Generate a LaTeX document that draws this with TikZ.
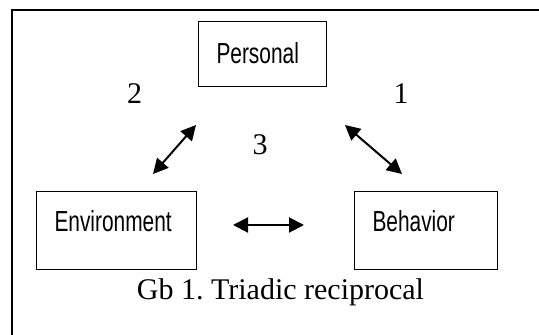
\documentclass[tikz,border=0pt]{standalone}
\usepackage{fontspec}
\setmainfont{Liberation Serif}
\newfontfamily\narrowfont[FakeStretch=0.72]{Liberation Sans}
\usetikzlibrary{arrows.meta}

\begin{document}
\begin{tikzpicture}[x=1pt, y=-1pt,
  box/.style={draw, line width=1pt, anchor=north west, inner xsep=18pt, inner ysep=0pt,
    align=left, font=\narrowfont\fontsize{29}{31}\selectfont},
  num/.style={anchor=base, font=\fontsize{30}{32}\selectfont},
  link/.style={{Triangle[length=15pt,width=15pt]}-{Triangle[length=15pt,width=15pt]}, line width=2pt}]
\useasboundingbox (0,0) rectangle (539,335);
\draw[line width=2pt] (12,335) |- (539,10);
\node[box, text width=92pt, text height=42pt, text depth=23pt] (personal) at (198,21) {Personal};
\node[box, text width=124pt, text height=40pt, text depth=38pt] (environment) at (36,191) {Environment};
\node[box, text width=107pt, text height=40pt, text depth=38pt] (behavior) at (354,191) {Behavior};
\node[num] (n2) at (134.5,103) {2};
\node[num] (n1) at (401,103) {1};
\node[num] (n3) at (260,154) {3};
\coordinate (pe) at (196,125);
\coordinate (ep) at (153,174);
\coordinate (pb) at (345,125);
\coordinate (bp) at (402,174);
\coordinate (eb) at (233,225);
\coordinate (be) at (304,225);
\draw[link] (pe) -- (ep);
\draw[link] (pb) -- (bp);
\draw[link] (eb) -- (be);
\node[num] (caption) at (280.5,299) {Gb 1.\ Triadic reciprocal};
\end{tikzpicture}
\end{document}
